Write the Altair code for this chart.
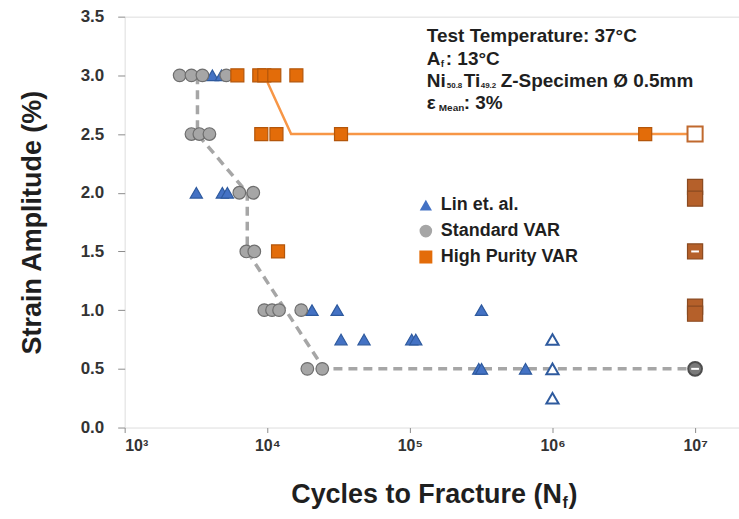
import altair as alt
import pandas as pd

# ---------------- data ----------------
series_names = ["Lin et. al.", "Standard VAR", "High Purity VAR"]

lin_x = [4120, 4770, 3180, 4840, 5250, 20600, 30900, 318000, 32900, 47700, 103000, 110000, 304000, 318000, 647000]
lin_y = [3.0, 3.0, 2.0, 2.0, 2.0, 1.0, 1.0, 1.0, 0.75, 0.75, 0.75, 0.75, 0.5, 0.5, 0.5]
lin_runout_x = [1e6, 1e6, 1e6]
lin_runout_y = [0.75, 0.5, 0.25]

std_x = [2430, 2940, 3510, 5160, 2940, 3340, 3930, 6370, 7980, 7130, 8110, 9530, 10800, 12100, 17300, 19100, 24300]
std_y = [3.0, 3.0, 3.0, 3.0, 2.5, 2.5, 2.5, 2.0, 2.0, 1.5, 1.5, 1.0, 1.0, 1.0, 1.0, 0.5, 0.5]
std_runout_x = [1e7]
std_runout_y = [0.5]

hp_x = [6170, 8790, 9530, 11200, 16000, 9080, 11600, 32900, 4.47e6, 11900]
hp_y = [3.0, 3.0, 3.0, 3.0, 3.0, 2.5, 2.5, 2.5, 2.5, 1.5]
hp_hollow_x = [1e7]
hp_hollow_y = [2.5]
hp_runout_x = [1e7, 1e7, 1e7, 1e7, 1e7]
hp_runout_y = [2.05, 1.95, 1.5, 1.03, 0.97]

std_fit_x = [3240, 3240, 7240, 7240, 25000, 1e7]
std_fit_y = [3.0, 2.5, 2.0, 1.5, 0.5, 0.5]
hp_fit_x = [9530, 14700, 1e7]
hp_fit_y = [3.0, 2.5, 2.5]

x_ticks = [1e3, 1e4, 1e5, 1e6, 1e7]
x_tick_labels = ["10³", "10⁴", "10⁵", "10⁶", "10⁷"]
y_ticks = [0.0, 0.5, 1.0, 1.5, 2.0, 2.5, 3.0, 3.5]

# ---------------- styles ----------------
FONT = "Liberation Sans"
TXT = "#1f1f1f"
fills = ["#4472c4", "#a6a6a6", "#e36c09"]
strokes = ["#2e5a9e", "#6e6e6e", "#b4560a"]
shapes = ["triangle-up", "circle", "square"]
sizes = [150, 170, 230]

XMAX = 10 ** 7.308
xscale = alt.Scale(type="log", domain=[1e3, XMAX], nice=False)
yscale = alt.Scale(domain=[0, 3.5], nice=False)

label_expr = " : ".join(
    f"datum.value == {int(v)} ? '{l}'" for v, l in zip(x_ticks, x_tick_labels)
) + " : ''"

xaxis = alt.Axis(values=x_ticks, labelExpr=label_expr, title=None,
                 grid=False, domain=False, tickColor="#8c8c8c", tickSize=5,
                 labelFont=FONT, labelFontSize=16, labelFontWeight="bold", labelColor="#333333",
                 labelPadding=5)
yaxis = alt.Axis(values=y_ticks, format=".1f", title="Strain Amplitude (%)",
                 grid=False, domain=False, tickColor="#8c8c8c", tickSize=7,
                 labelFont=FONT, labelFontSize=17, labelFontWeight="bold", labelColor="#333333",
                 labelPadding=14, titleFont=FONT, titleFontSize=27, titleFontWeight="bold",
                 titleColor=TXT, titlePadding=34)

# ---------------- frames ----------------
main_df = pd.DataFrame({
    "N": lin_x + std_x + hp_x,
    "S": lin_y + std_y + hp_y,
    "series": [series_names[0]] * len(lin_x) + [series_names[1]] * len(std_x) + [series_names[2]] * len(hp_x),
})
std_fit = pd.DataFrame({"N": std_fit_x, "S": std_fit_y})
hp_fit = pd.DataFrame({"N": hp_fit_x, "S": hp_fit_y})
lin_run = pd.DataFrame({"N": lin_runout_x, "S": lin_runout_y})
std_run = pd.DataFrame({"N": std_runout_x, "S": std_runout_y})
hp_hol = pd.DataFrame({"N": hp_hollow_x, "S": hp_hollow_y})
hp_run = pd.DataFrame({"N": hp_runout_x, "S": hp_runout_y})

base_x = alt.X("N:Q", scale=xscale, axis=xaxis)
base_y = alt.Y("S:Q", scale=yscale, axis=yaxis)
px = alt.X("N:Q", scale=xscale)
py = alt.Y("S:Q", scale=yscale)

std_line = alt.Chart(std_fit).mark_line(color="#a6a6a6", strokeWidth=3.5, strokeDash=[9, 6]).encode(x=base_x, y=base_y)
hp_line = alt.Chart(hp_fit).mark_line(color="#f79646", strokeWidth=2.5).encode(x=px, y=py)

points = alt.Chart(main_df).mark_point(filled=True, opacity=1, strokeWidth=1.2).encode(
    x=px, y=py,
    color=alt.Color("series:N", scale=alt.Scale(domain=series_names, range=fills),
                    legend=alt.Legend(title=None, orient="none", legendX=293, legendY=180,
                                      labelFont=FONT, labelFontSize=18, labelFontWeight="bold",
                                      labelColor=TXT, symbolSize=90, rowPadding=8,
                                      symbolStrokeWidth=0, padding=0, labelOffset=6)),
    shape=alt.Shape("series:N", scale=alt.Scale(domain=series_names, range=shapes)),
    stroke=alt.Stroke("series:N", scale=alt.Scale(domain=series_names, range=strokes), legend=None),
    size=alt.Size("series:N", scale=alt.Scale(domain=series_names, range=sizes), legend=None),
    order=alt.Order("order:Q"),
).transform_calculate(order="datum.series == 'Lin et. al.' ? 0 : datum.series == 'Standard VAR' ? 1 : 2")

lin_hollow = alt.Chart(lin_run).mark_point(shape="triangle-up", size=150, fill="white", filled=False,
                                           stroke="#2e5a9e", strokeWidth=2, opacity=1).encode(x=px, y=py)
std_runout = alt.Chart(std_run).mark_point(shape="circle", size=190, fill="#7a7a7a", stroke="#4d4d4d",
                                           strokeWidth=2, opacity=1).encode(x=px, y=py)
hp_hollow = alt.Chart(hp_hol).mark_point(shape="square", size=230, fill="white", stroke="#c0692e",
                                         strokeWidth=2, opacity=1).encode(x=px, y=py)
hp_runout = alt.Chart(hp_run).mark_point(shape="square", size=230, fill="#b5602a", stroke="#8a4a20",
                                         strokeWidth=1.2, opacity=1).encode(x=px, y=py)
dash_df = pd.concat([hp_run.iloc[[2]], std_run])
runout_dash = alt.Chart(dash_df).mark_point(shape="M-1,0L1,0", size=60, stroke="white", strokeWidth=2,
                                            filled=False, opacity=1).encode(x=px, y=py)

# ---------------- annotation ----------------
ann_rows = [
    # (text, x, y, size)
    ("Test Temperature: 37°C", 428, 35, 19),
    ("A", 428, 58, 19), ("f", 442, 63, 10), (": 13°C", 447, 58, 19),
    ("Ni", 428, 81, 19), ("50.8", 448, 86, 8), ("Ti", 465, 81, 19), ("49.2", 482, 86, 8),
    ("Z-Specimen Ø 0.5mm", 502, 81, 19),
    ("ε", 428, 103, 19), ("Mean", 440, 108, 10), (": 3%", 465, 103, 19),
    ("Cycles to Fracture (N", 292, 496, 27), ("f", 564, 504, 16), (")", 570, 496, 27),
]
ann = []
for t, x, y, s in ann_rows:
    ann.append(alt.Chart(pd.DataFrame({"t": [t]})).mark_text(
        align="left", baseline="middle", font=FONT, fontSize=s, fontWeight="bold", color=TXT
    ).encode(text="t:N", x=alt.value(x - 125), y=alt.value(y - 16)))

chart = alt.layer(std_line, hp_line, points, lin_hollow, hp_hollow, hp_runout, std_runout, runout_dash, *ann).properties(
    width=616, height=412,
    autosize=alt.AutoSizeParams(type="none"),
    padding={"left": 125, "top": 16, "right": 0, "bottom": 91},
).configure_view(stroke="#595959", strokeWidth=3).configure(background="white")

chart.save("out.html", embed_options={"renderer": "svg", "actions": False})
